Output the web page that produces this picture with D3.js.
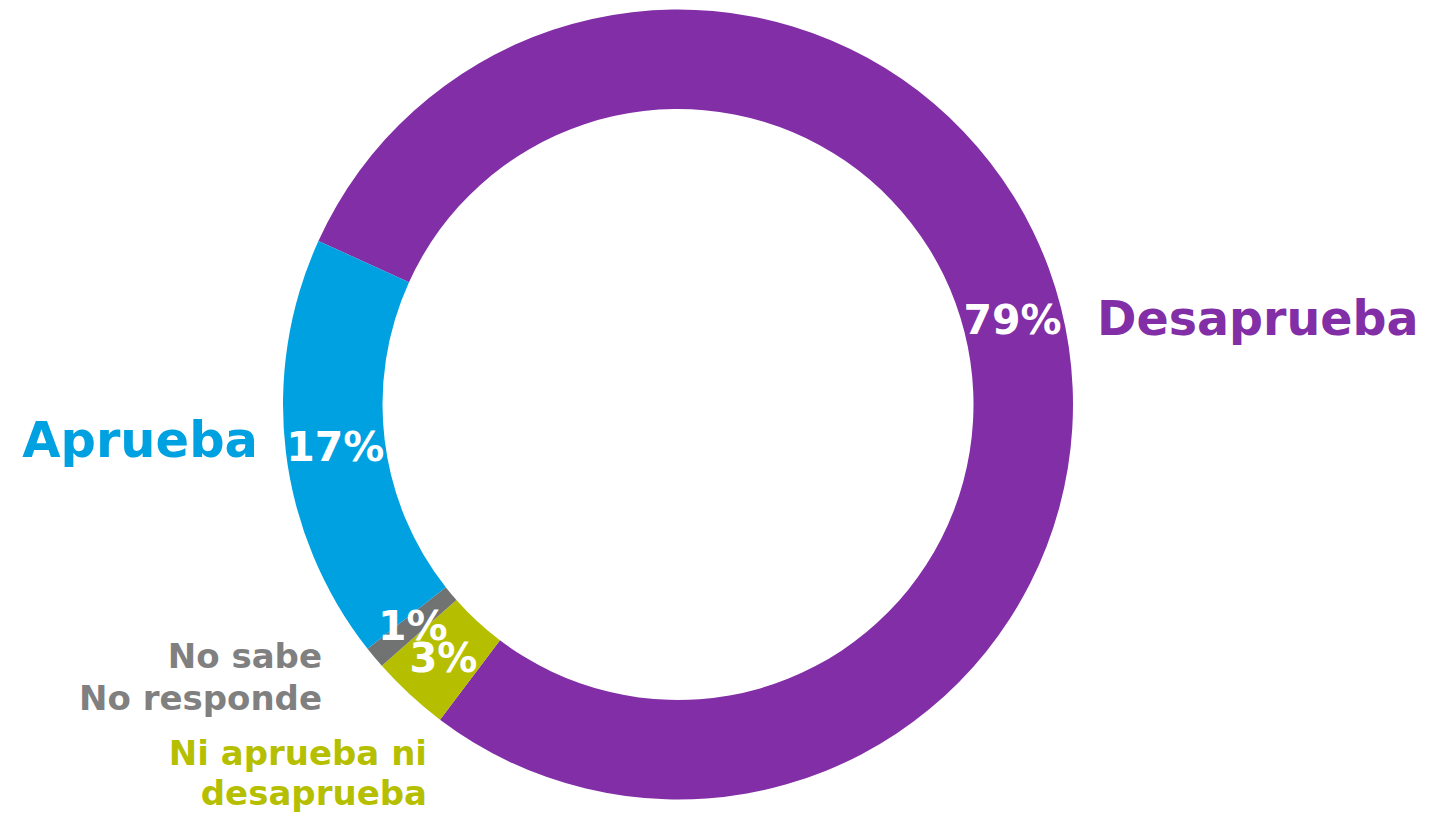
<!DOCTYPE html>
<html>
<head>
<meta charset="utf-8">
<script src="https://cdn.jsdelivr.net/npm/d3@7"></script>
<style>
  html, body { margin: 0; padding: 0; background: #fff; }
  svg text { font-family: "DejaVu Sans", sans-serif; font-weight: bold; }
</style>
</head>
<body>
<script>
// data, clockwise from the upper left edge of the ring
var categories = ["Desaprueba", "Ni aprueba ni desaprueba", "No sabe No responde", "Aprueba"];
var values = [78.5, 3.2, 0.9, 17.4];
var pctLabels = ["79%", "3%", "1%", "17%"];
var colors = ["#822ea6", "#b5bf00", "#717372", "#00a1e1"];
var textColors = ["#822ea6", "#b5bf00", "#808080", "#00a1e1"];

var width = 1430, height = 817;
var cx = 678, cy = 404.5;
var outerR = 395, innerR = 295.5;
var startDeg = -65.55;

var svg = d3.select("body").append("svg")
    .attr("width", width)
    .attr("height", height);

var g = svg.append("g")
    .attr("transform", "translate(" + cx + "," + cy + ")");

var data = categories.map(function(c, i) {
  return {name: c, value: values[i], label: pctLabels[i], color: colors[i]};
});

var pie = d3.pie()
    .sort(null)
    .value(function(d) { return d.value; })
    .startAngle(startDeg * Math.PI / 180)
    .endAngle((startDeg + 360) * Math.PI / 180);

var arc = d3.arc()
    .innerRadius(innerR)
    .outerRadius(outerR);

var arcs = pie(data);

g.selectAll("path.slice")
  .data(arcs)
  .enter()
  .append("path")
    .attr("class", "slice")
    .attr("d", arc)
    .style("fill", function(d) { return d.data.color; });

// percentages at the middle of each slice
var pctSize = {"79%": 41, "17%": 41, "1%": 41, "3%": 40};
g.selectAll("text.pct")
  .data(arcs)
  .enter()
  .append("text")
    .attr("class", "pct")
    .attr("x", function(d) { return arc.centroid(d)[0]; })
    .attr("y", function(d) { return arc.centroid(d)[1] + pctSize[d.data.label] * 0.729 / 2; })
    .attr("text-anchor", "middle")
    .style("font-size", function(d) { return pctSize[d.data.label] + "px"; })
    .style("fill", "#fff")
    .text(function(d) { return d.data.label; });

// category names outside the ring
svg.append("text")
    .attr("x", 1097).attr("y", 335)
    .attr("text-anchor", "start")
    .style("font-size", "47.5px")
    .style("fill", textColors[0])
    .text("Desaprueba");

svg.append("text")
    .attr("x", 258).attr("y", 457)
    .attr("text-anchor", "end")
    .style("font-size", "49.5px")
    .style("fill", textColors[3])
    .text("Aprueba");

var gray = svg.append("text")
    .attr("text-anchor", "end")
    .style("font-size", "34px")
    .style("fill", textColors[2]);
gray.append("tspan").attr("x", 322).attr("y", 668).text("No sabe");
gray.append("tspan").attr("x", 322).attr("y", 710).text("No responde");

var green = svg.append("text")
    .attr("text-anchor", "end")
    .style("font-size", "34px")
    .style("fill", textColors[1]);
green.append("tspan").attr("x", 427).attr("y", 765).text("Ni aprueba ni");
green.append("tspan").attr("x", 427).attr("y", 805).text("desaprueba");
</script>
</body>
</html>
